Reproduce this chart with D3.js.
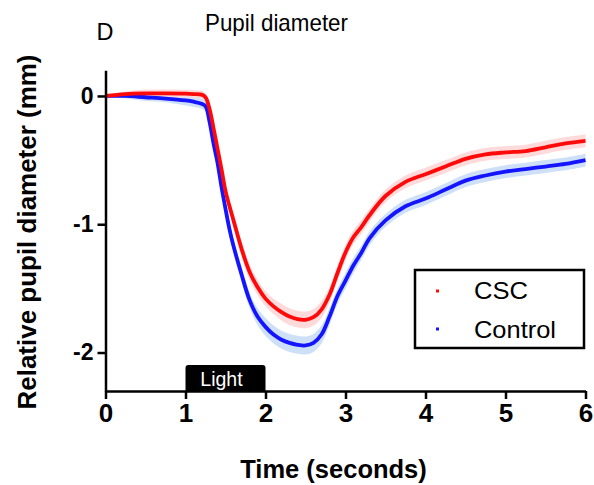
<!DOCTYPE html>
<html><head><meta charset="utf-8">
<script src="https://cdn.jsdelivr.net/npm/d3@7"></script>
<style>body{margin:0;background:#fff}svg{display:block}text{font-family:"Liberation Sans",Arial,sans-serif}</style>
</head><body><svg id="c" width="594" height="485"></svg>
<script>
const times = [0,0.25,0.5,0.75,1.0,1.1,1.2,1.25,1.3,1.35,1.4,1.45,1.5,1.55,1.6,1.7,1.8,1.9,2.0,2.1,2.2,2.3,2.4,2.5,2.6,2.7,2.8,2.9,3.0,3.1,3.2,3.3,3.5,3.75,4.0,4.25,4.5,4.75,5.0,5.25,5.5,5.75,6.0];
const cscValues = [0,0.015,0.02,0.02,0.018,0.015,0.01,-0.01,-0.1,-0.25,-0.41,-0.57,-0.74,-0.86,-0.97,-1.19,-1.37,-1.49,-1.58,-1.64,-1.685,-1.72,-1.74,-1.745,-1.725,-1.665,-1.55,-1.38,-1.22,-1.10,-1.02,-0.93,-0.78,-0.67,-0.61,-0.55,-0.49,-0.455,-0.44,-0.43,-0.40,-0.37,-0.35];
const controlValues = [0,0,-0.01,-0.02,-0.035,-0.045,-0.06,-0.08,-0.2,-0.37,-0.52,-0.71,-0.88,-1.04,-1.17,-1.39,-1.59,-1.72,-1.80,-1.86,-1.90,-1.925,-1.94,-1.945,-1.925,-1.86,-1.72,-1.56,-1.44,-1.32,-1.22,-1.11,-0.97,-0.86,-0.80,-0.73,-0.66,-0.62,-0.59,-0.57,-0.55,-0.53,-0.50];
const cscSem = [0.01,0.02,0.03,0.03,0.03,0.03,0.03,0.03,0.04,0.04,0.04,0.05,0.05,0.05,0.05,0.06,0.06,0.06,0.06,0.06,0.065,0.065,0.065,0.065,0.065,0.065,0.06,0.06,0.06,0.055,0.055,0.05,0.05,0.05,0.05,0.05,0.05,0.05,0.05,0.05,0.05,0.05,0.05];
const controlSem = [0.01,0.02,0.03,0.03,0.04,0.04,0.04,0.04,0.04,0.04,0.05,0.05,0.05,0.05,0.05,0.06,0.06,0.065,0.07,0.07,0.07,0.07,0.07,0.07,0.07,0.07,0.065,0.06,0.06,0.06,0.055,0.055,0.05,0.05,0.05,0.05,0.05,0.05,0.05,0.05,0.05,0.05,0.05];
const seriesNames = ["CSC","Control"];
const xTicks = [0,1,2,3,4,5,6];
const yTicks = [-2,-1,0];
const lightWindow = [1,2];

const svg = d3.select("#c");
const x = d3.scaleLinear().domain([0,6]).range([105.5,585.5]);
const y = d3.scaleLinear().domain([-2.3,0.2]).range([391,70.3]);

const series = [
  {name:seriesNames[1], vals:controlValues, sem:controlSem, line:"#1414ff", band:"#c4daf6"},
  {name:seriesNames[0], vals:cscValues, sem:cscSem, line:"#ff0a0a", band:"#ffd4d4"}
];
const curve = d3.curveCatmullRom.alpha(0.5);
const area = d3.area().curve(curve).x(d=>x(d.t)).y0(d=>y(d.v-d.s)).y1(d=>y(d.v+d.s));
const line = d3.line().curve(curve).x(d=>x(d.t)).y(d=>y(d.v));
series.forEach(s=>{ s.data = times.map((t,i)=>({t, v:s.vals[i], s:s.sem[i]})); });
series.forEach(s=>{
  svg.append("path").attr("d",area(s.data)).attr("fill",s.band).attr("fill-opacity",0.85);
});
series.forEach(s=>{
  svg.append("path").attr("d",line(s.data)).attr("fill","none").attr("stroke",s.line).attr("stroke-width",3.8);
});

// Light bar
const lb = svg.append("g");
const lx0 = x(lightWindow[0]), lx1 = x(lightWindow[1]), ly0 = 365, ly1 = 391, r = 3;
lb.append("path").attr("d",`M${lx0},${ly1} L${lx0},${ly0+r} Q${lx0},${ly0} ${lx0+r},${ly0} L${lx1-r},${ly0} Q${lx1},${ly0} ${lx1},${ly0+r} L${lx1},${ly1} Z`).attr("fill","#000");
lb.append("text").attr("x",(lx0+lx1)/2-4).attr("y",386).attr("text-anchor","middle").attr("fill","#fff").attr("font-size",19.5).text("Light");

// Axes
const xAxis = svg.append("g").attr("transform","translate(0,391)")
  .call(d3.axisBottom(x).tickValues(xTicks).tickSize(8).tickSizeOuter(0).tickPadding(5).tickFormat(d3.format("d")));
const yAxis = svg.append("g").attr("transform","translate(105.5,0)")
  .call(d3.axisLeft(y).tickValues(yTicks).tickSize(8).tickSizeOuter(0).tickPadding(4).tickFormat(d=>d===0?"0":String(d)));
[xAxis,yAxis].forEach(a=>{
  a.selectAll("path.domain").attr("stroke","#000").attr("stroke-width",2.5);
  a.selectAll(".tick line").attr("stroke","#000").attr("stroke-width",2.5);
  a.selectAll(".tick text").attr("fill","#000").attr("font-weight","bold").attr("font-family","'Liberation Sans',Arial,sans-serif");
});
xAxis.selectAll(".tick text").attr("font-size",26).attr("dy","0.68em");
yAxis.selectAll(".tick text").attr("font-size",23);

// Axis titles
svg.append("text").attr("x",333.5).attr("y",478).attr("text-anchor","middle").attr("font-size",25.5).attr("font-weight","bold").text("Time (seconds)");
svg.append("text").attr("transform","translate(36,232) rotate(-90)").attr("text-anchor","middle").attr("font-size",25).attr("font-weight","bold")
  .attr("textLength",355).attr("lengthAdjust","spacingAndGlyphs").text("Relative pupil diameter (mm)");

// Title and panel letter
svg.append("text").attr("x",205).attr("y",31).attr("font-size",24).attr("textLength",143).attr("lengthAdjust","spacingAndGlyphs").text("Pupil diameter");
svg.append("text").attr("x",96.5).attr("y",40).attr("font-size",23.5).text("D");

// Legend
const lg = svg.append("g");
lg.append("rect").attr("x",415).attr("y",270).attr("width",169).attr("height",78).attr("fill","#fff").attr("stroke","#000").attr("stroke-width",2.5);
const legendItems = [{name:seriesNames[0], color:"#ff0a0a", yy:291, by:298.5, w:54},{name:seriesNames[1], color:"#1414ff", yy:329, by:337.5, w:82}];
legendItems.forEach(it=>{
  lg.append("rect").attr("x",436).attr("y",it.yy-1.5).attr("width",3).attr("height",3).attr("fill",it.color);
  lg.append("text").attr("x",474).attr("y",it.by).attr("font-size",24.5).attr("textLength",it.w).attr("lengthAdjust","spacingAndGlyphs").text(it.name);
});
</script></body></html>
